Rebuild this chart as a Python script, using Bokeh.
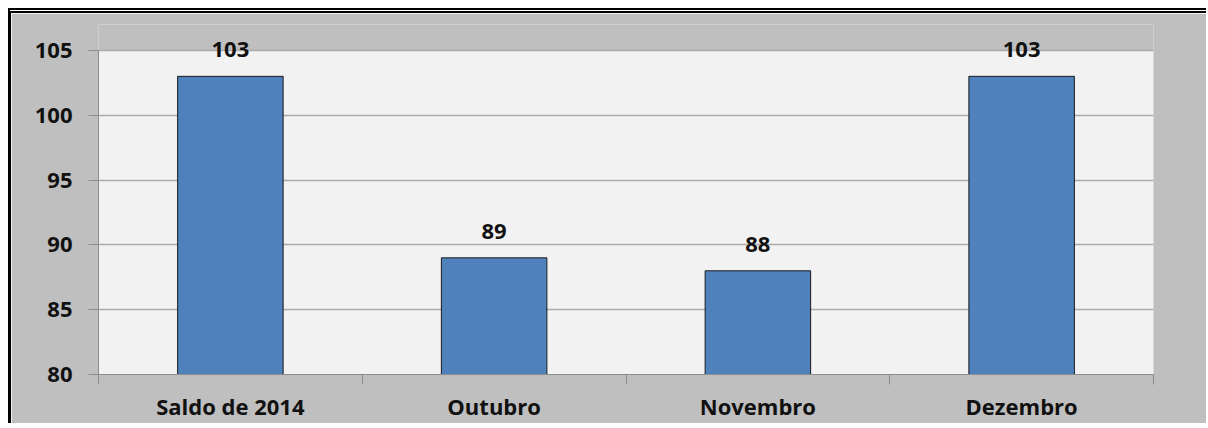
from bokeh.plotting import figure
from bokeh.layouts import column
from bokeh.models import ColumnDataSource, FixedTicker, LabelSet, Range1d, BoxAnnotation
from bokeh.core.properties import value
from bokeh.embed import file_html
from bokeh.resources import INLINE

categories = ["Saldo de 2014", "Outubro", "Novembro", "Dezembro"]
values = [103, 89, 88, 103]
y_ticks = [80, 85, 90, 95, 100, 105]

xs = [i + 0.5 for i in range(len(categories))]
src = ColumnDataSource(dict(x=xs, top=values, label=[str(v) for v in values]))

FONT = "Open Sans"
GRAY_BG = "#bfbfbf"
AXIS = "#8c8c8c"
FS = "22px"

p = figure(width=1195, height=410, output_backend="svg", toolbar_location=None,
           x_range=Range1d(0, len(categories)), y_range=Range1d(y_ticks[0], 107),
           min_border_left=87, min_border_right=53, min_border_top=11, min_border_bottom=47,
           background_fill_color=GRAY_BG, border_fill_color=GRAY_BG,
           outline_line_color=None)

area = BoxAnnotation(left=0, right=len(categories), bottom=y_ticks[0], top=y_ticks[-1],
                     fill_color="#f2f2f2", fill_alpha=1, line_color=None, level="image")
p.add_layout(area)

p.vbar(x="x", top="top", bottom=y_ticks[0], width=0.4, source=src,
       fill_color="#4f81bd", line_color="#1a1a1a", line_width=1)

labels = LabelSet(x="x", y="top", text="label", source=src, y_offset=19,
                  text_align="center", text_baseline="alphabetic",
                  text_font=value(FONT), text_font_style="bold", text_font_size=FS,
                  text_color="#111111")
p.add_layout(labels)

p.yaxis.ticker = FixedTicker(ticks=y_ticks)
p.yaxis.bounds = (y_ticks[0], y_ticks[-1])
p.yaxis.axis_line_color = AXIS
p.yaxis.major_tick_line_color = AXIS
p.yaxis.major_tick_out = 10
p.yaxis.major_tick_in = 0
p.yaxis.minor_tick_line_color = None
p.yaxis.major_label_standoff = 16
p.yaxis.major_label_text_font = FONT
p.yaxis.major_label_text_font_style = "bold"
p.yaxis.major_label_text_font_size = FS
p.yaxis.major_label_text_color = "#111111"

p.xaxis.ticker = FixedTicker(ticks=xs, minor_ticks=list(range(len(categories) + 1)))
p.xaxis.major_label_overrides = {x: c for x, c in zip(xs, categories)}
p.xaxis.axis_line_color = AXIS
p.xaxis.major_tick_line_color = None
p.xaxis.minor_tick_line_color = AXIS
p.xaxis.minor_tick_out = 10
p.xaxis.minor_tick_in = 0
p.xaxis.major_label_standoff = 6
p.xaxis.major_label_text_font = FONT
p.xaxis.major_label_text_font_style = "bold"
p.xaxis.major_label_text_font_size = FS
p.xaxis.major_label_text_color = "#111111"

p.xgrid.grid_line_color = None
p.ygrid.ticker = FixedTicker(ticks=y_ticks)
p.ygrid.grid_line_color = "#ababab"
p.ygrid.grid_line_width = 1.5

layout = column(p, styles={"border-left": "3px solid black",
                           "border-top": "5px double black",
                           "border-right": "0px none", "border-bottom": "0px none",
                           "margin-left": "8px", "margin-top": "8px"})

open("out.html", "w").write(file_html(layout, INLINE))
